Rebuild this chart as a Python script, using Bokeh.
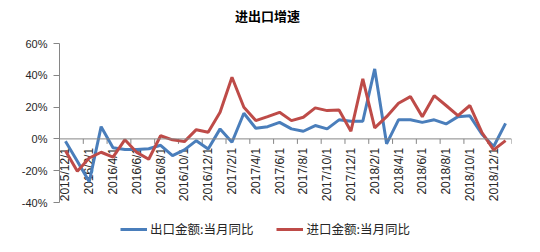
from math import pi
from bokeh.plotting import figure
from bokeh.models import (Range1d, FixedTicker, Legend, LegendItem, Span, Label,
                          PrintfTickFormatter, ColumnDataSource)
from bokeh.core.properties import value
from bokeh.embed import file_html
from bokeh.resources import INLINE

# ---- data ----
months = ["2015/12/1"] + [f"2016/{m}/1" for m in range(1, 13)] + \
         [f"2017/{m}/1" for m in range(1, 13)] + [f"2018/{m}/1" for m in range(1, 13)] + ["2019/1/1"]
exports = [-1.5, -14, -27, 7.7, -5.5, -6.6, -6.7, -6.2, -4.0, -10.5,
           -6.9, -1.1, -6.3, 6.3, -2.1, 16.1, 6.7, 7.7, 10.4, 6.3,
           4.8, 8.4, 6.3, 12.0, 11.1, 11.1, 44.0, -3.1, 12.0, 12.0,
           10.4, 12.0, 9.4, 14.0, 14.5, 3.1, -4.8, 9.8]
imports = [-7.4, -20.4, -12.0, -8.4, -11.5, -0.5, -8.5, -12.8, 2.0, -0.6,
           -1.7, 5.8, 4.2, 16.7, 38.8, 19.9, 11.5, 14.0, 16.7, 11.5,
           13.6, 19.5, 17.8, 18.2, 4.8, 37.7, 6.9, 14.0, 22.4, 26.6,
           14.0, 27.2, 21.0, 14.6, 21.0, 4.2, -6.9, -1.1]
y_ticks = [-40, -20, 0, 20, 40, 60]
series_names = ["出口金额:当月同比", "进口金额:当月同比"]
title_text = "进出口增速"

idx = list(range(len(months)))
label_idx = idx[::2]
label_txt = months[::2]
tick_bounds = [i - 0.5 for i in range(0, len(months) + 1, 2)]

BLUE = "#4A7EBB"
RED = "#BE4B48"
AXIS = "#868686"
TXT = "#262626"

# layout: value axis spans 159 px for 100 points; frame extended above and below
# so that title and legend sit inside the frame
W, H = 540, 252
AXIS_TOP, AXIS_BOTTOM, FRAME_TOP, FRAME_BOTTOM = 43, 202, 0, 250
px_per_unit = (AXIS_BOTTOM - AXIS_TOP) / (y_ticks[-1] - y_ticks[0])
y_lo = y_ticks[0] - (FRAME_BOTTOM - AXIS_BOTTOM) / px_per_unit
y_hi = y_ticks[-1] + (AXIS_TOP - FRAME_TOP) / px_per_unit

p = figure(width=W, height=H, output_backend="svg", toolbar_location=None,
           x_range=Range1d(-0.5, len(months) - 0.5), y_range=Range1d(y_lo, y_hi),
           min_border_left=59, min_border_right=29, min_border_top=FRAME_TOP,
           min_border_bottom=H - FRAME_BOTTOM)
p.title = None
p.outline_line_color = None
p.xgrid.visible = False
p.ygrid.visible = False
p.xaxis.visible = False
p.background_fill_color = "white"
p.border_fill_color = "white"

ya = p.yaxis[0]
ya.ticker = FixedTicker(ticks=y_ticks)
ya.bounds = (y_ticks[0], y_ticks[-1])
ya.formatter = PrintfTickFormatter(format="%d%%")
ya.axis_line_color = AXIS
ya.major_tick_line_color = AXIS
ya.major_tick_out = 6
ya.major_tick_in = 0
ya.minor_tick_line_color = None
ya.major_label_standoff = 6
ya.major_label_text_font = "Liberation Sans"
ya.major_label_text_font_size = "11px"
ya.major_label_text_color = TXT

# horizontal category axis at 0
p.add_layout(Span(location=0, dimension="width", line_color=AXIS, line_width=1))
tick_len = 5 / px_per_unit
p.segment(x0=tick_bounds, x1=tick_bounds, y0=[0] * len(tick_bounds),
          y1=[-tick_len] * len(tick_bounds), line_color=AXIS, line_width=1)

src_lbl = ColumnDataSource(dict(x=label_idx, y=[0] * len(label_idx), t=label_txt))
p.text(x="x", y="y", text="t", source=src_lbl, angle=pi / 2, text_align="right",
       text_baseline="middle", y_offset=9, text_font=value("Liberation Sans"),
       text_font_size="12px", text_color=TXT)

r_exp = p.line(idx, exports, line_color=BLUE, line_width=3)
r_imp = p.line(idx, imports, line_color=RED, line_width=3)

legend = Legend(items=[LegendItem(label=series_names[0], renderers=[r_exp]),
                       LegendItem(label=series_names[1], renderers=[r_imp])],
                location=(61, 12), orientation="horizontal", glyph_width=27,
                glyph_height=16, label_standoff=3, spacing=23, padding=0, margin=0,
                border_line_color=None, background_fill_alpha=0,
                label_text_font="Noto Sans CJK SC", label_text_font_size="12.5px",
                label_text_color=TXT, label_height=16)
p.add_layout(legend, "center")

# title centred at (267, 15) in page pixels -> frame-relative screen units
p.add_layout(Label(x=267 - 59, y=FRAME_BOTTOM - 15, x_units="screen", y_units="screen",
                   text=title_text, text_align="center", text_baseline="middle",
                   text_font="Noto Sans CJK SC", text_font_size="13px",
                   text_font_style="bold", text_color="#000000"))

open("out.html", "w").write(file_html(p, INLINE))
